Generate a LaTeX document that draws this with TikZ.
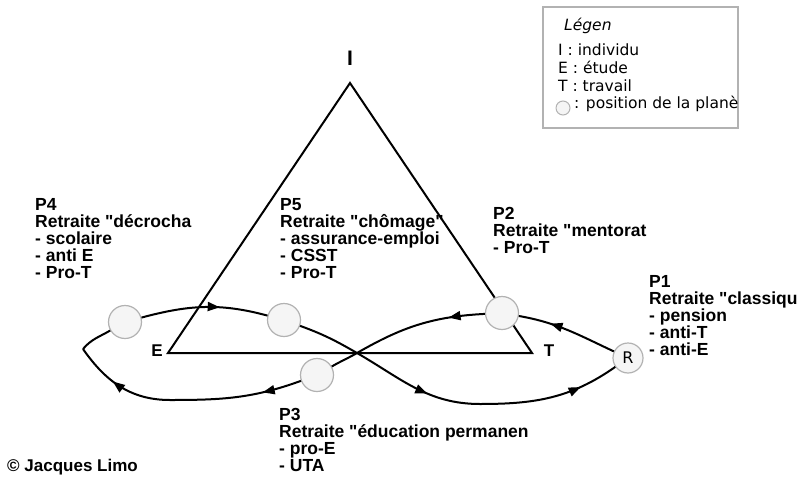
\documentclass[tikz,border=0pt]{standalone}
\usepackage{fontspec}
\setmainfont{Liberation Sans}
\newfontfamily\blocfont{Liberation Sans}
\newfontfamily\legfont{DejaVu Sans}
\usetikzlibrary{arrows.meta,decorations.markings}

\tikzset{
  bloc/.style={anchor=north west, align=left, inner sep=0pt, font=\blocfont\bfseries\fontsize{17.5}{17}\selectfont},
  stage/.style={circle, draw=gray!60, line width=1.2pt, fill=gray!8, minimum size=33pt, inner sep=0pt},
  trait/.style={line width=2pt},
  flow/.style={trait, postaction={decorate}, decoration={markings, mark=at position #1 with {\arrow{Triangle[length=12pt,width=9pt]}}}},
  flow/.default=0.5,
  sommet/.style={inner sep=0pt, font=\blocfont\bfseries\fontsize{17}{17}\selectfont},
  legende/.style={anchor=north west, align=left, inner sep=0pt, font=\legfont\fontsize{15.5}{18}\selectfont},
}

\begin{document}
\begin{tikzpicture}[x=1pt, y=1pt]
    \useasboundingbox (0,0) rectangle (799,-476);

    % Legend
    \draw[gray!60, line width=1.2pt] (543,-7) rectangle (738,-128);
    \node[legende, font=\legfont\itshape\fontsize{15.5}{18}\selectfont] (legtitre) at (564,-18) {Légen};
    \node[legende] (legtexte) at (558,-44) {I : individu\\E : étude\\T : travail};
    \node[circle, draw=gray!60, line width=1pt, fill=gray!8, minimum size=14pt, inner sep=0pt] (legrond) at (563,-108) {};
    \node[legende, anchor=base west] (legpos) at (574,-108) {: position de la planè};

    % Triangle I-E-T
    \coordinate (sommetI) at (350,-83);
    \coordinate (sommetE) at (168,-353);
    \coordinate (sommetT) at (532,-353);
    \draw[trait] (sommetI) -- (sommetE) -- (sommetT) -- cycle;
    \node[sommet, font=\blocfont\bfseries\fontsize{21}{21}\selectfont] (labI) at (350,-58) {I};
    \node[sommet] (labE) at (157,-351) {E};
    \node[sommet] (labT) at (549,-351) {T};

    % Positions
    \node[stage] (p4) at (125,-322) {};
    \node[stage] (p5) at (284,-320) {};
    \node[stage] (p2) at (502,-313) {};
    \node[stage] (p3) at (317,-375) {};
    \node[stage, minimum size=30pt, font=\legfont\fontsize{16}{16}\selectfont] (p1) at (628,-358) {R};

    \coordinate (X) at (357,-353);
    \coordinate (L) at (83,-349);
    \coordinate (BL) at (170,-400);
    \coordinate (BR) at (480,-404);

    % Trajectories
    \draw[flow=0.68] (p1) to[out=155,in=-10] (p2);
    \draw[flow=0.27] (p2) to[out=183,in=30] (X);
    \draw[trait] (X) to[out=210,in=30] (p3);
    \draw[flow=0.3] (p3) to[out=200,in=0] (BL);
    \draw[flow=0.58] (BL) to[out=180,in=-55] (L);
    \draw[trait] (L) to[out=50,in=210] (p4);
    \draw[flow=0.62] (p4) to[out=15,in=165] (p5);
    \draw[trait] (p5) to[out=-20,in=150] (X);
    \draw[flow=0.6] (X) to[out=-30,in=180] (BR);
    \draw[flow=0.72] (BR) to[out=0,in=215] (p1);

    % Retirement types
    \node[bloc] (txt4) at (35,-198) {P4\\Retraite "décrocha\\- scolaire\\- anti E\\- Pro-T};
    \node[bloc] (txt5) at (280,-198) {P5\\Retraite "chômage"\\- assurance-emploi\\- CSST\\- Pro-T};
    \node[bloc] (txt2) at (493,-207) {P2\\Retraite "mentorat\\- Pro-T};
    \node[bloc] (txt1) at (649,-275) {P1\\Retraite "classiqu\\- pension\\- anti-T\\- anti-E};
    \node[bloc] (txt3) at (279,-408) {P3\\Retraite "éducation permanen\\- pro-E\\- UTA};

    \node[bloc, font=\blocfont\bfseries\fontsize{17}{17}\selectfont] (copyright) at (7,-459) {© Jacques Limo};
\end{tikzpicture}
\end{document}
